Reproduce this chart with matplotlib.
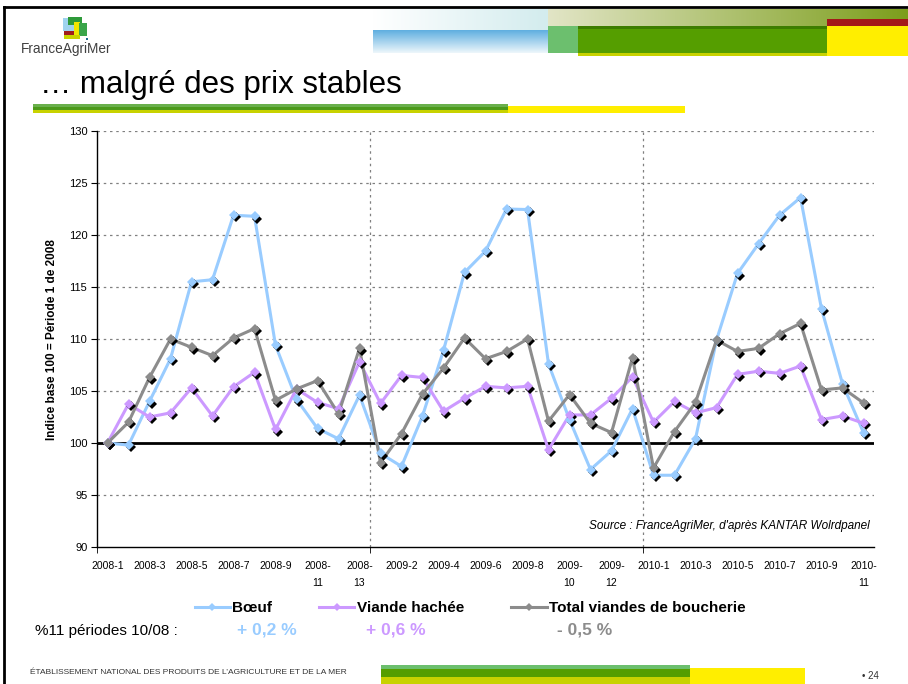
import numpy as np
import matplotlib
matplotlib.use("Agg")
import matplotlib.pyplot as plt
import matplotlib.transforms as mtransforms
from matplotlib.patches import Rectangle
from matplotlib.lines import Line2D

plt.rcParams['font.family'] = ['Liberation Sans', 'DejaVu Sans']

# ---------------- data ----------------
categories = ([f"2008-{i}" for i in range(1, 14)] +
              [f"2009-{i}" for i in range(1, 14)] +
              [f"2010-{i}" for i in range(1, 12)])

boeuf = [100.0, 99.8, 104.0, 108.1, 115.5, 115.7, 121.9, 121.8, 109.4, 104.2, 101.4, 100.4, 104.6,
         99.0, 97.75, 102.6, 108.9, 116.4, 118.45, 122.5, 122.45, 107.6, 102.25, 97.45, 99.25, 103.3,
         96.9, 96.9, 100.4, 109.9, 116.3, 119.15, 121.9, 123.6, 112.9, 105.7, 101.0]

viande_hachee = [100.0, 103.75, 102.5, 102.9, 105.3, 102.6, 105.4, 106.8, 101.3, 105.2, 103.9, 103.3, 107.8,
                 103.8, 106.5, 106.3, 103.05, 104.3, 105.45, 105.3, 105.45, 99.35, 102.7, 102.7, 104.3, 106.35,
                 102.0, 104.0, 102.9, 103.4, 106.6, 106.9, 106.7, 107.4, 102.25, 102.6, 101.9]

total_boucherie = [100.0, 102.0, 106.3, 110.0, 109.2, 108.4, 110.1, 111.0, 104.1, 105.2, 106.0, 102.8, 109.1,
                   98.1, 100.9, 104.7, 107.2, 110.1, 108.1, 108.8, 110.0, 102.1, 104.65, 101.9, 101.0, 108.2,
                   97.6, 101.1, 103.9, 109.9, 108.8, 109.1, 110.5, 111.5, 105.1, 105.3, 103.85]

series_names = ["Bœuf", "Viande hachée", "Total viandes de boucherie"]
series_colors = ["#99ccff", "#cc99ff", "#8c8c8c"]
pct_labels = ["+ 0,2 %", "+ 0,6 %", "- 0,5 %"]
yticks = [90, 95, 100, 105, 110, 115, 120, 125, 130]

W, H = 908, 684
fig = plt.figure(figsize=(W / 100, H / 100), dpi=100)
fig.patch.set_facecolor("white")

# ---------------- decoration layer (pixel coords) ----------------
bg = fig.add_axes([0, 0, 1, 1], zorder=0)
bg.axis("off")

def rect(x0, y0, x1, y1, color):
    bg.add_patch(Rectangle((x0, y0), x1 - x0, y1 - y0, facecolor=color, edgecolor="none"))

def hgrad(x0, y0, x1, y1, c0, c1, vertical=False):
    c0 = np.array(matplotlib.colors.to_rgb(c0))
    c1 = np.array(matplotlib.colors.to_rgb(c1))
    t = np.linspace(0, 1, 200)
    arr = c0[None, :] * (1 - t[:, None]) + c1[None, :] * t[:, None]
    if vertical:
        img = arr[:, None, :]
    else:
        img = arr[None, :, :]
    bg.imshow(img, extent=(x0, x1, y1, y0), aspect="auto", interpolation="bilinear")

# borders
bg.plot([3.5, 3.5], [7, 684], color="black", lw=2)
bg.plot([3.5, 908], [7, 7], color="black", lw=2)

# header bands
hgrad(373, 9, 548, 30, "#ffffff", "#d3ecee")
hgrad(373, 30, 548, 53, "#5eaee0", "#eef7fb", vertical=True)
hgrad(548, 9, 908, 26, "#e2e5c6", "#7c9e1c")
rect(548, 26, 578, 53, "#6cbf6e")
rect(578, 26, 827, 53, "#559e00")
rect(578, 26, 827, 29, "#3d7d00")
rect(578, 53, 827, 56, "#c8d200")
rect(827, 19, 908, 26, "#a31919")
rect(827, 26, 908, 56, "#ffee00")

# logo
rect(63, 18, 75, 31, "#9fd3ef")
rect(68, 17, 82, 25, "#2e9a3a")
rect(74, 22, 80, 36, "#f2e600")
rect(79, 23, 87, 36, "#3aa54a")
rect(64, 31, 74, 35, "#a01c1c")
rect(64, 35, 80, 39, "#c8d400")
rect(86, 38, 88, 40, "#1f6f8f")
bg.text(21, 49, "FranceAgriMer", fontsize=9.8, color="#404040", va="center", ha="left")

# title
bg.text(40, 85, "… malgré des prix stables", fontsize=22.5, color="black", va="center", ha="left")
rect(33, 104, 508, 107, "#6ab04c")
rect(33, 107, 508, 110, "#4c9a1a")
rect(33, 110, 508, 113, "#c8d200")
rect(508, 106, 685, 113, "#ffee00")

# footer
bg.text(30, 673, "ÉTABLISSEMENT NATIONAL DES PRODUITS DE L’AGRICULTURE ET DE LA MER", fontsize=6,
        color="#333333", va="center", ha="left")
rect(381, 665, 690, 669, "#6cbf6e")
rect(381, 669, 690, 677, "#559e00")
rect(381, 677, 690, 684, "#c8d200")
rect(690, 668, 805, 684, "#ffee00")
bg.text(862, 676, "• 24", fontsize=7, color="#333333", va="center", ha="left")

# percentages row
bg.text(35, 631, "%11 périodes 10/08 :", fontsize=11, color="black", va="center", ha="left")
for lab, col, x in zip(pct_labels, series_colors, [237, 366, 557]):
    bg.text(x, 630, lab, fontsize=12.5, color=col, fontweight="bold", va="center", ha="left")

bg.set_xlim(0, W)
bg.set_ylim(H, 0)

# ---------------- main chart ----------------
L, R, T, B = 97, 874, 131, 547
ax = fig.add_axes([L / W, 1 - B / H, (R - L) / W, (B - T) / H], zorder=1)
ax.set_facecolor("none")

x = np.arange(len(categories))
shadow = mtransforms.offset_copy(ax.transData, fig=fig, x=1.6, y=-1.6, units="points")
handles = []
for vals, col, name in zip([boeuf, viande_hachee, total_boucherie], series_colors, series_names):
    ax.plot(x, vals, color=col, lw=2.2, zorder=3)
    ax.plot(x, vals, linestyle="none", marker="D", markersize=5, color="black",
            markeredgewidth=0, transform=shadow, zorder=3.5)
    ax.plot(x, vals, linestyle="none", marker="D", markersize=5, color=col,
            markeredgewidth=0, zorder=4)
    handles.append(Line2D([], [], color=col, lw=2.2, marker="D", markersize=4.5,
                          markeredgewidth=0, label=name))

ax.set_xlim(-0.5, len(categories) - 0.5)
ax.set_ylim(90, 130)

# grid
for yv in yticks:
    if yv in (90, 100):
        continue
    ax.axhline(yv, color="#808080", lw=0.9, linestyle=(0, (2, 3)), zorder=1)
ax.axhline(100, color="black", lw=2, zorder=2)
for xb in [12.5, 25.5]:
    ax.axvline(xb, color="#808080", lw=0.9, linestyle=(0, (2, 3)), zorder=1)

for s in ["top", "right"]:
    ax.spines[s].set_visible(False)
for s in ["left", "bottom"]:
    ax.spines[s].set_color("black")
    ax.spines[s].set_linewidth(1)

ax.set_yticks(yticks)
ax.tick_params(axis="y", direction="out", length=4, labelsize=8, pad=3)

def fmt(c):
    yr, p = c.split("-")
    return c if len(p) == 1 else f"{yr}-\n{p}"

pos = list(range(0, len(categories), 2))
ax.set_xticks(pos)
ax.set_xticklabels([fmt(categories[i]) for i in pos], fontsize=7.5, linespacing=1.85)
ax.tick_params(axis="x", length=0, pad=10)
ax.set_xticks([-0.5, 12.5, 25.5], minor=True)
ax.tick_params(axis="x", which="minor", direction="out", length=4)

fig.text(52 / W, 1 - 340 / H, "Indice base 100 = Période 1 de 2008", rotation=90,
         fontsize=8.5, fontweight="bold", ha="center", va="center")

ax.text((870 - L) / (R - L), (B - 526) / (B - T),
        "Source : FranceAgriMer, d'après KANTAR Wolrdpanel",
        transform=ax.transAxes, fontsize=8.5, style="italic", ha="right", va="center")

fig.legend(handles=handles, loc="center", bbox_to_anchor=(470 / W, 1 - 608 / H),
           ncol=3, frameon=False, prop={"weight": "bold", "size": 11},
           handlelength=2.3, handletextpad=0.15, columnspacing=3.1, borderpad=0)

fig.savefig("out.png", dpi=100, facecolor="white")
